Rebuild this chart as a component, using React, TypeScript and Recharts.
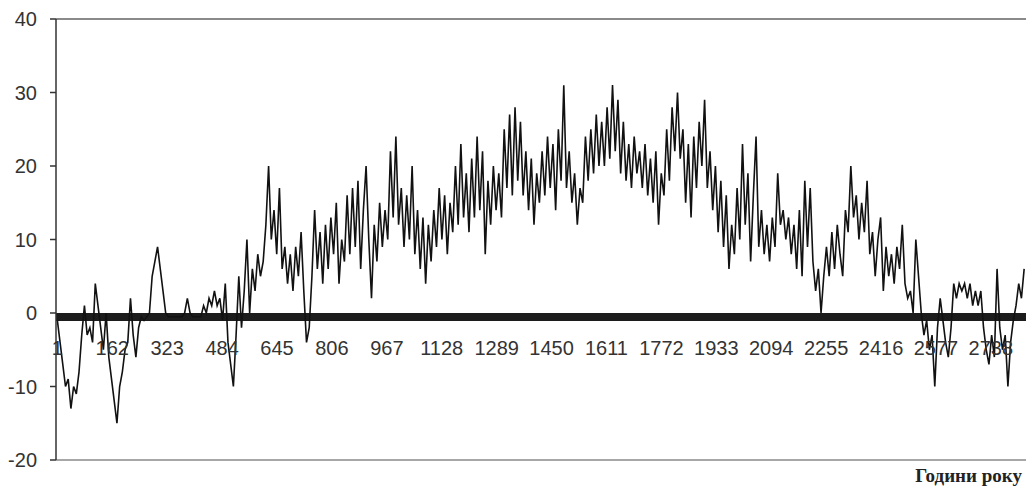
import { LineChart, Line, XAxis, YAxis, ReferenceLine, ReferenceArea } from 'recharts';

// air temperature, every 8 hours
const temps = [
  -1, -4, -7, -10, -9, -13, -10, -11, -8, -3,
  1, -3, -2, -4, 4, 1, -2, -5, 0, -6,
  -9, -12, -15, -10, -8, -5, -4, 2, -3, -6,
  -2, -0.5, -1, -0.5, 0, 5, 7, 9, 6, 3,
  0, -0.5, -0.5, -0.5, -0.5, -0.5, -0.5, 0, 2, 0,
  -0.5, -0.5, -0.5, -0.5, 1, 0, 2, 1, 3, 1,
  2, -1, 4, -4, -7, -10, -3, 5, -2, 3,
  10, 0, 6, 3, 8, 5, 7, 12, 20, 10,
  14, 8, 17, 6, 9, 4, 8, 3, 9, 5,
  11, 3, -4, -2, 5, 14, 6, 11, 4, 12,
  6, 13, 8, 15, 4, 10, 7, 16, 8, 17,
  9, 18, 6, 14, 20, 10, 2, 12, 7, 15,
  9, 14, 10, 22, 13, 24, 12, 17, 9, 16,
  10, 20, 8, 14, 6, 13, 4, 12, 7, 14,
  9, 17, 10, 16, 8, 15, 11, 20, 12, 23,
  13, 19, 11, 21, 13, 24, 14, 22, 8, 18,
  12, 20, 14, 19, 13, 25, 17, 27, 16, 28,
  18, 26, 16, 22, 14, 21, 12, 19, 15, 22,
  16, 24, 17, 23, 14, 25, 18, 31, 17, 22,
  15, 19, 12, 17, 15, 24, 18, 25, 19, 27,
  20, 26, 20, 28, 21, 31, 22, 29, 19, 26,
  18, 23, 17, 24, 19, 22, 17, 23, 16, 21,
  15, 22, 12, 19, 16, 25, 18, 28, 22, 30,
  21, 25, 15, 23, 13, 24, 17, 26, 20, 29,
  17, 22, 14, 20, 11, 18, 9, 16, 6, 12,
  8, 17, 10, 23, 12, 19, 7, 16, 24, 9,
  14, 8, 12, 7, 13, 9, 19, 12, 14, 10,
  13, 8, 12, 6, 14, 5, 18, 9, 17, 7,
  3, 6, 0, 5, 9, 5, 11, 6, 12, 8,
  5, 14, 11, 20, 13, 16, 10, 15, 11, 18,
  8, 11, 5, 10, 13, 3, 9, 5, 8, 4,
  9, 6, 12, 4, 2, 3, 0, 10, 5, 0,
  -3, -1, -5, -3, -10, -2, 2, -1, -4, -6,
  -2, 4, 2, 4, 3, 4, 2, 4, 1, 3,
  1, 3, -2, -5, -7, -3, -6, 6, -2, -5,
  -3, -10, -4, -1, 1, 4, 2, 6,
];

const HOUR_STEP = 7.94;
const hourTicks = [1, 162, 323, 484, 645, 806, 967, 1128, 1289, 1450, 1611, 1772, 1933, 2094, 2255, 2416, 2577, 2738];
const tempTicks = [-20, -10, 0, 10, 20, 30, 40];
const xTitle = 'Години року';

const data = temps.map((t, i) => ({ hour: 1 + i * HOUR_STEP, t }));

const W = 1026;
const H = 491;
const TOP = 19;
const PLOT_H = 441;
const Y_MIN = -20;
const Y_MAX = 40;
const zeroY = TOP + (PLOT_H * Y_MAX) / (Y_MAX - Y_MIN);

const font = '"Liberation Sans", Arial, sans-serif';

function HourTick(props: any) {
  const { x, payload } = props;
  return (
    <text x={x} y={zeroY + 42} textAnchor="middle" fontFamily={font} fontSize={20} fill="#333">
      {payload.value}
    </text>
  );
}

export default function App() {
  return (
    <div style={{ position: 'relative', width: W, height: H, background: '#fff' }}>
      <style>{'body{margin:0}'}</style>
      <LineChart width={W} height={H} data={data} margin={{ top: TOP, right: 0, bottom: 0, left: 0 }}>
        <XAxis
          dataKey="hour"
          type="number"
          domain={[-3, 2841]}
          ticks={hourTicks}
          interval={0}
          height={31}
          tickLine={false}
          axisLine={{ stroke: '#8a8a8a', strokeWidth: 1.5 }}
          tick={<HourTick />}
        />
        <YAxis
          domain={[Y_MIN, Y_MAX]}
          ticks={tempTicks}
          width={56}
          tickSize={6}
          tickMargin={13}
          axisLine={{ stroke: '#333', strokeWidth: 1.5 }}
          tickLine={{ stroke: '#333', strokeWidth: 1.5 }}
          tick={{ fontFamily: font, fontSize: 20, fill: '#333' }}
        />
        <ReferenceLine y={40} stroke="#8a8a8a" strokeWidth={2} />
        <ReferenceArea y1={-1.1} y2={0} fill="#1c1c1c" fillOpacity={1} stroke="none" />
        <Line
          type="linear"
          dataKey="t"
          stroke="#111"
          strokeWidth={1.6}
          dot={false}
          isAnimationActive={false}
        />
      </LineChart>
      <div
        style={{
          position: 'absolute',
          right: 4,
          top: 465,
          fontFamily: '"Liberation Serif", "Times New Roman", serif',
          fontWeight: 'bold',
          fontSize: 19,
          color: '#222',
        }}
      >
        {xTitle}
      </div>
    </div>
  );
}
